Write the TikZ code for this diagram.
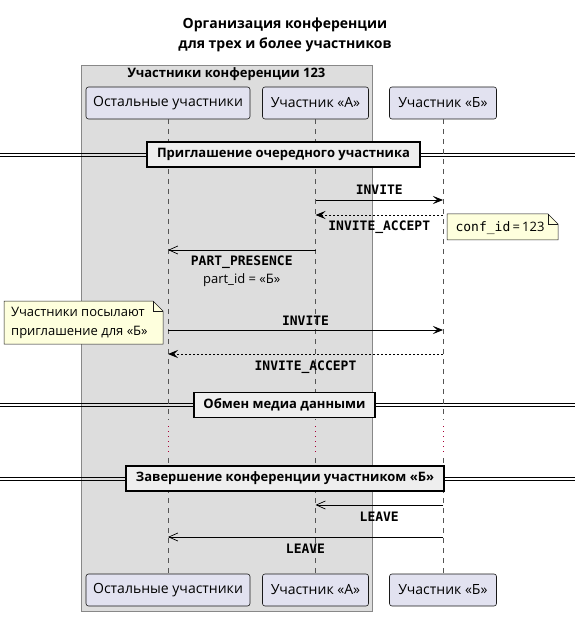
\documentclass[tikz,border=0pt]{standalone}
\usepackage{fontspec}
\setmainfont{Open Sans}
\newfontfamily\monofont{DejaVu Sans Mono}
\usetikzlibrary{arrows.meta}
\definecolor{partfill}{HTML}{E2E2F0}
\definecolor{partdraw}{HTML}{181818}
\definecolor{groupfill}{HTML}{DDDDDD}
\definecolor{groupdraw}{HTML}{888888}
\definecolor{divfill}{HTML}{EEEEEE}
\definecolor{notefill}{HTML}{FEFFDD}
\definecolor{notedraw}{HTML}{181818}
\definecolor{lifecol}{HTML}{555555}
\definecolor{delaycol}{HTML}{A80036}
\pgfdeclarelayer{grouplayer}
\pgfdeclarelayer{notelayer}
\pgfsetlayers{grouplayer,notelayer,main}
\begin{document}
\begin{tikzpicture}[x=1pt,y=-1pt,
  participant/.style={draw=partdraw, fill=partfill, line width=0.6pt, rounded corners=2.5pt,
    minimum height=32pt, inner sep=0pt, font=\fontsize{14}{17}\selectfont},
  lifeline/.style={draw=lifecol, line width=0.6pt, dash pattern=on 5pt off 5pt},
  delayline/.style={draw=delaycol, line width=0.9pt, dash pattern=on 1pt off 4pt},
  msg/.style={draw=black, line width=0.8pt},
  filledhead/.style={-{Stealth[length=10pt,width=8pt,inset=4pt]}},
  openhead/.style={-{Straight Barb[length=9pt,width=8pt,line width=0.7pt]}},
  dashedmsg/.style={dash pattern=on 2pt off 2pt},
  msgfont/.style={font=\monofont\bfseries\fontsize{13}{15}\selectfont},
  lblabove/.style={msgfont, anchor=base, yshift=5pt, inner sep=0pt},
  lblbelow/.style={msgfont, anchor=base, yshift=-16pt, inner sep=0pt},
  divbox/.style={draw=black, fill=divfill, line width=1.4pt, inner sep=0pt,
    minimum height=25pt, font=\bfseries\fontsize{13}{15}\selectfont},
  divline/.style={draw=black, line width=0.9pt},
  notetext/.style={inner sep=0pt, font=\fontsize{13}{19}\selectfont, align=left},
  noteshape/.style={draw=notedraw, fill=notefill, line width=0.5pt},
  plain/.style={inner sep=0pt, font=\fontsize{13}{15}\selectfont}
]
\useasboundingbox (0,0) rectangle (575,617);

% title
\node[align=center, inner sep=0pt, font=\bfseries\fontsize{14}{20}\selectfont] (title) at (285,35)
  {Организация конференции\\для трех и более участников};

% group box
\begin{pgfonlayer}{grouplayer}
\node[draw=groupdraw, fill=groupfill, line width=0.9pt, minimum width=291pt, minimum height=546pt,
  inner sep=0pt, anchor=north west] (grp) at (81,65) {};
\end{pgfonlayer}
\node[inner sep=0pt, font=\bfseries\fontsize{13}{15}\selectfont] (grptitle) at (226.5,74)
  {Участники конференции 123};

% participants
\node[participant, minimum width=164pt] (oT) at (168,103) {Остальные участники};
\node[participant, minimum width=106pt] (aT) at (315.5,103) {Участник «А»};
\node[participant, minimum width=107pt] (bT) at (443,103) {Участник «Б»};
\node[participant, minimum width=164pt] (oB) at (168,590) {Остальные участники};
\node[participant, minimum width=106pt] (aB) at (315.5,590) {Участник «А»};
\node[participant, minimum width=107pt] (bB) at (443,590) {Участник «Б»};

% lifelines with delay
\foreach \p/\x in {o/168, a/315.5, b/443} {
  \coordinate (\p d1) at (\x,420);
  \coordinate (\p d2) at (\x,426);
  \coordinate (\p d3) at (\x,455);
  \coordinate (\p d4) at (\x,458);
  \draw[lifeline] (\p T.south) -- (\p d1);
  \draw[delayline] (\p d2) -- (\p d3);
  \draw[lifeline] (\p d4) -- (\p B.north);
}

% divider 1
\node[divbox, minimum width=273pt] (div1) at (283.5,154.5) {Приглашение очередного участника};
\coordinate (d1l) at (0,154.5);
\coordinate (d1r) at (575,154.5);
\begin{pgfonlayer}{notelayer}
\draw[divline] ([yshift=1.5pt]d1l) -- ([yshift=1.5pt]d1r);
\draw[divline] ([yshift=-1.5pt]d1l) -- ([yshift=-1.5pt]d1r);
\end{pgfonlayer}

% message coordinates
\coordinate (a200) at (315.5,200); \coordinate (b200) at (443,200);
\coordinate (a215) at (315.5,215); \coordinate (b215) at (443,215);
\coordinate (o250) at (168,250);   \coordinate (a250) at (315.5,250);
\coordinate (o330) at (168,330);   \coordinate (b330) at (443,330);
\coordinate (o354) at (168,354);   \coordinate (b354) at (443,354);
\coordinate (a505) at (315.5,505); \coordinate (b505) at (443,505);
\coordinate (o537) at (168,537);   \coordinate (b537) at (443,537);

\draw[msg, filledhead] (a200) -- (b200) node[midway, lblabove] (l1) {INVITE};
\draw[msg, filledhead, dashedmsg] (b215) -- (a215) node[midway, lblbelow] (l2) {INVITE\_ACCEPT};

% note conf_id
\node[plain] (n1) at (500,228) {{\monofont conf\_id}\,=\,123};
\begin{pgfonlayer}{notelayer}
\draw[noteshape] (447,214) -- (548,214) -- (558,224) -- (558,240) -- (447,240) -- cycle;
\draw[noteshape, fill=none] (548,214) -- (548,224) -- (558,224);
\end{pgfonlayer}

\draw[msg, openhead, line width=0.6pt] (a250) -- (o250) node[midway, msgfont, anchor=base, yshift=-15pt, inner sep=0pt] (l3) {PART\_PRESENCE};
\node[plain, anchor=base] (l3b) at ([yshift=-18pt]l3.base) {part\_id = «Б»};

% note 2
\node[notetext, anchor=north west] (n2) at (11,307) {Участники посылают\\приглашение для «Б»};
\begin{pgfonlayer}{notelayer}
\draw[noteshape] (4,301) -- (153,301) -- (163,311) -- (163,344) -- (4,344) -- cycle;
\draw[noteshape, fill=none] (153,301) -- (153,311) -- (163,311);
\end{pgfonlayer}

\draw[msg, filledhead] (o330) -- (b330) node[midway, lblabove] (l4) {INVITE};
\draw[msg, filledhead, dashedmsg] (b354) -- (o354) node[midway, lblbelow] (l5) {INVITE\_ACCEPT};

% divider 2
\node[divbox, minimum width=181pt] (div2) at (284.5,405) {Обмен медиа данными};
\coordinate (d2l) at (0,405);
\coordinate (d2r) at (575,405);
\begin{pgfonlayer}{notelayer}
\draw[divline] ([yshift=1.5pt]d2l) -- ([yshift=1.5pt]d2r);
\draw[divline] ([yshift=-1.5pt]d2l) -- ([yshift=-1.5pt]d2r);
\end{pgfonlayer}

% divider 3
\node[divbox, minimum width=318pt] (div3) at (285,478.5) {Завершение конференции участником «Б»};
\coordinate (d3l) at (0,478.5);
\coordinate (d3r) at (575,478.5);
\begin{pgfonlayer}{notelayer}
\draw[divline] ([yshift=1.5pt]d3l) -- ([yshift=1.5pt]d3r);
\draw[divline] ([yshift=-1.5pt]d3l) -- ([yshift=-1.5pt]d3r);
\end{pgfonlayer}

\draw[msg, openhead, line width=0.6pt] (b505) -- (a505) node[midway, lblbelow] (l6) {LEAVE};
\draw[msg, openhead, line width=0.6pt] (b537) -- (o537) node[midway, lblbelow] (l7) {LEAVE};

\end{tikzpicture}
\end{document}
